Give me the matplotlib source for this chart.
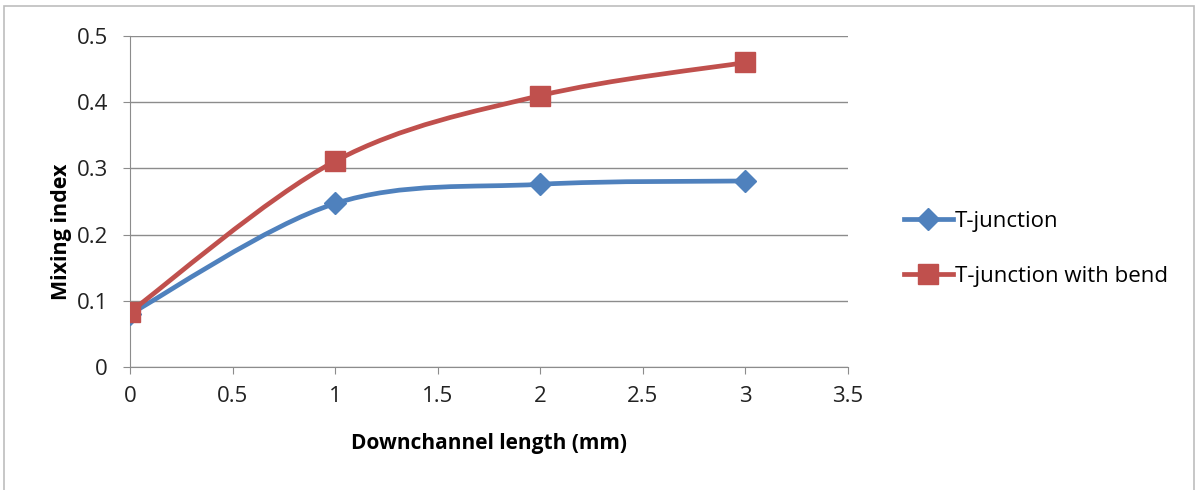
import numpy as np
import matplotlib.pyplot as plt
from matplotlib.path import Path
from matplotlib.patches import PathPatch, Rectangle
from matplotlib.lines import Line2D

plt.rcParams["font.family"] = ["Open Sans", "DejaVu Sans"]

x_mm = [0, 1, 2, 3]
t_junction = [0.080, 0.247, 0.276, 0.281]
t_bend = [0.083, 0.311, 0.410, 0.460]

BLUE = "#4F81BD"
RED = "#C0504D"


def smooth_path(xs, ys):
    # Excel-style smoothed line: cubic Bezier with control points from neighbours
    pts = np.column_stack([xs, ys]).astype(float)
    n = len(pts)
    verts = [pts[0]]
    codes = [Path.MOVETO]
    for i in range(n - 1):
        p0 = pts[i - 1] if i > 0 else pts[i]
        p1 = pts[i]
        p2 = pts[i + 1]
        p3 = pts[i + 2] if i + 2 < n else pts[i + 1]
        c1 = p1 + (p2 - p0) / 6.0
        c2 = p2 - (p3 - p1) / 6.0
        verts += [c1, c2, p2]
        codes += [Path.CURVE4] * 3
    return Path(verts, codes)


fig = plt.figure(figsize=(11.98, 4.90), dpi=100)
ax = fig.add_axes([130 / 1198, 1 - 367 / 490, 718 / 1198, 331 / 490])

series = [
    (t_junction, BLUE, "D", 11, "T-junction"),
    (t_bend, RED, "s", 14, "T-junction with bend"),
]
handles = []
for ys, col, mk, ms, lab in series:
    ax.add_patch(PathPatch(smooth_path(x_mm, ys), facecolor="none",
                           edgecolor=col, lw=3.4, zorder=3, capstyle="round"))
    ax.plot(x_mm, ys, ls="none", marker=mk, ms=ms, color=col, zorder=4)
    handles.append(Line2D([], [], color=col, lw=3.4, marker=mk, ms=ms, label=lab))

ax.set_xlim(0, 3.5)
ax.set_ylim(0, 0.5)
ax.set_xticks(np.arange(0, 3.51, 0.5))
ax.set_xticklabels(["0", "0.5", "1", "1.5", "2", "2.5", "3", "3.5"])
ax.set_yticks(np.arange(0, 0.51, 0.1))
ax.set_yticklabels(["0", "0.1", "0.2", "0.3", "0.4", "0.5"])
ax.grid(axis="y", color="#8c8c8c", lw=1)
ax.set_axisbelow(True)
for s in ["top", "right"]:
    ax.spines[s].set_visible(False)
for s in ["left", "bottom"]:
    ax.spines[s].set_color("#8c8c8c")
ax.tick_params(axis="both", direction="out", length=5, color="#8c8c8c",
               labelsize=16, labelcolor="#222222")
ax.tick_params(axis="x", pad=9)
ax.tick_params(axis="y", pad=11)
ax.set_xlabel("Downchannel length (mm)", fontsize=15, fontweight="bold")
ax.xaxis.set_label_coords((489 - 130) / 718, -(443 - 367) / 331)
ax.set_ylabel("Mixing index", fontsize=15.5, fontweight="bold")
ax.yaxis.set_label_coords(-(130 - 62) / 718, (367 - 232) / 331)
ax.xaxis.label.set_va("center")
ax.yaxis.label.set_va("center")

fig.legend(handles=handles, loc="center left", bbox_to_anchor=(884 / 1198, 1 - 249 / 490),
           frameon=False, fontsize=16, handlelength=2.2, handletextpad=0.1,
           labelspacing=1.55)

fig.add_artist(Rectangle((4 / 1198, -0.01), 1190 / 1198, 1 - 6 / 490 + 0.01,
                         transform=fig.transFigure, fill=False,
                         edgecolor="#bdbdbd", lw=1.2))

fig.savefig("out.png", dpi=100)
